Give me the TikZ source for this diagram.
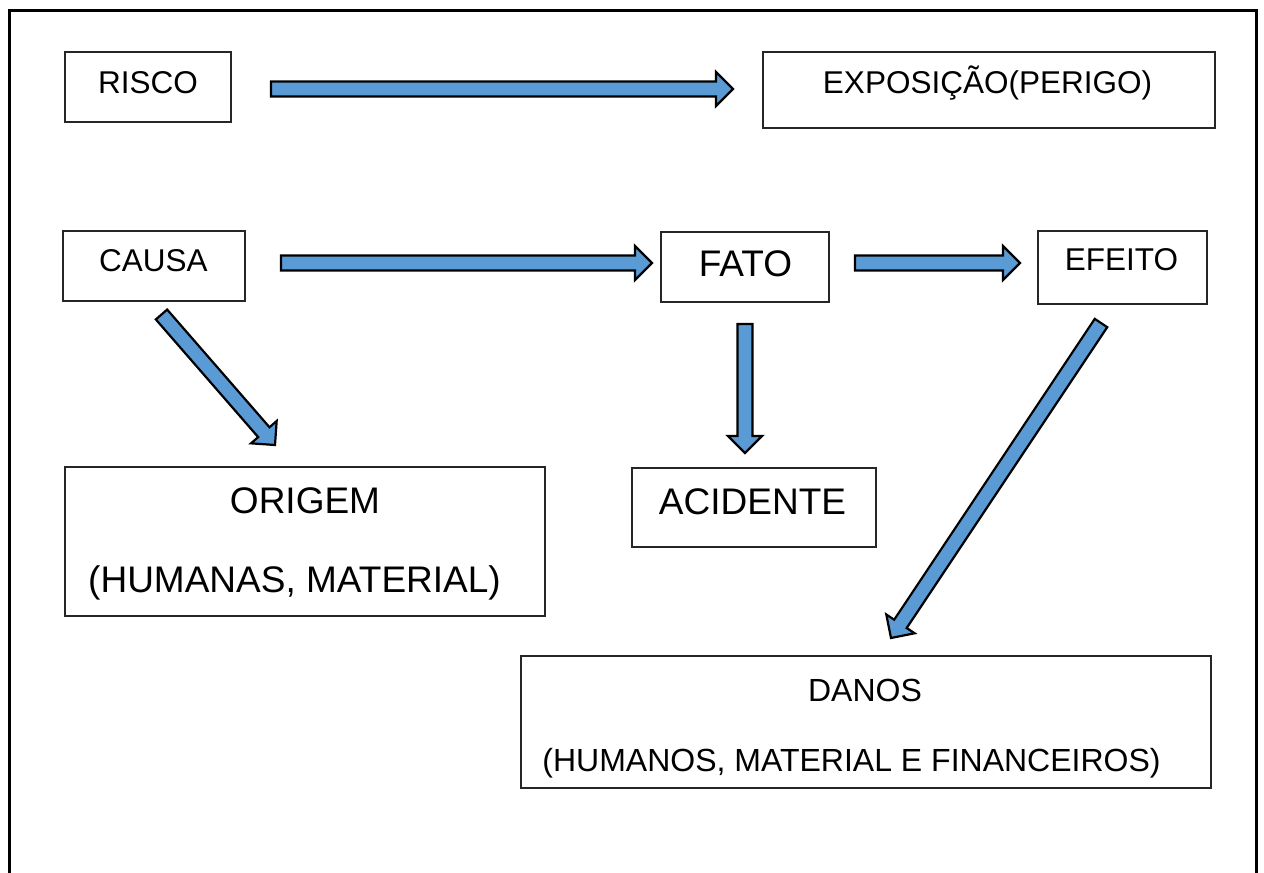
\documentclass[tikz,border=0pt]{standalone}
\usepackage{fontspec}
\setmainfont{Liberation Sans}
\usetikzlibrary{calc}
\definecolor{arrowblue}{HTML}{5B9BD5}

% Block arrow from tail (#1) to tip (#2): shaft, wide head, black outline
\newcommand\blockarrow[2]{%
  \coordinate (ba-base) at ($(#2)!17pt!(#1)$);
  \draw[blockarrow]
    ($(#1)!7.5pt!90:(#2)$) -- ($(ba-base)!7.5pt!90:(#2)$)
    -- ($(ba-base)!17pt!90:(#2)$) -- (#2)
    -- ($(ba-base)!17pt!-90:(#2)$) -- ($(ba-base)!7.5pt!-90:(#2)$)
    -- ($(#1)!7.5pt!-90:(#2)$) -- cycle;
}

\begin{document}
\begin{tikzpicture}[x=1pt,y=-1pt,
  box/.style={draw=black!85, line width=1.5pt, rectangle, inner sep=0pt},
  small/.style={anchor=base, inner sep=0pt, font=\fontsize{31.5}{37}\selectfont},
  big/.style={anchor=base, inner sep=0pt, font=\fontsize{37}{43}\selectfont},
  blockarrow/.style={fill=arrowblue, draw=black, line width=2.2pt, line join=miter}]
\useasboundingbox (0,0) rectangle (1264,873);

% open frame (no bottom edge)
\draw[line width=3pt] (9,873) -- (9,10) -- (1256,10) -- (1256,873);

% boxes
\node[box, minimum width=166pt, minimum height=70pt] (risco) at (148,87) {};
\node[box, minimum width=452pt, minimum height=76pt] (expo) at (989,90) {};
\node[box, minimum width=182pt, minimum height=70pt] (causa) at (154,266) {};
\node[box, minimum width=168pt, minimum height=70pt] (fato) at (745,267) {};
\node[box, minimum width=169pt, minimum height=73pt] (efeito) at (1122.5,267.5) {};
\node[box, minimum width=480pt, minimum height=149pt] (origem) at (305,541.5) {};
\node[box, minimum width=244pt, minimum height=79pt] (acidente) at (754,507.5) {};
\node[box, minimum width=690pt, minimum height=132pt] (danos) at (866,722) {};

% texts
\node[small] (risco-t) at (148,93) {RISCO};
\node[small] (expo-t) at (987.5,93) {EXPOSIÇÃO(PERIGO)};
\node[small] (causa-t) at (153.5,271) {CAUSA};
\node[big] (fato-t) at (745.5,276) {FATO};
\node[small] (efeito-t) at (1121.5,270) {EFEITO};
\node[big] (origem-t) at (305,513) {ORIGEM};
\node[big] (origem-t2) at (294.5,592) {(HUMANAS, MATERIAL)};
\node[big] (acidente-t) at (752.5,514) {ACIDENTE};
\node[small, font=\fontsize{32}{38}\selectfont] (danos-t) at (865,701) {DANOS};
\node[small, font=\fontsize{32}{38}\selectfont] (danos-t2) at (851.5,771) {(HUMANOS, MATERIAL E FINANCEIROS)};

% arrow ends
\coordinate (risco-out) at (271,89);
\coordinate (expo-in) at (733,89);
\coordinate (causa-out) at (281,263);
\coordinate (fato-in) at (652,263);
\coordinate (fato-out) at (855,263);
\coordinate (efeito-in) at (1020,263);
\coordinate (fato-down) at (745,324);
\coordinate (acidente-in) at (745,453);
\coordinate (causa-down) at (161.5,314.5);
\coordinate (origem-in) at (275,445);
\coordinate (efeito-down) at (1101,323);
\coordinate (danos-in) at (891,638);

% block arrows
\blockarrow{risco-out}{expo-in}
\blockarrow{causa-out}{fato-in}
\blockarrow{fato-out}{efeito-in}
\blockarrow{fato-down}{acidente-in}
\blockarrow{causa-down}{origem-in}
\blockarrow{efeito-down}{danos-in}
\end{tikzpicture}
\end{document}
